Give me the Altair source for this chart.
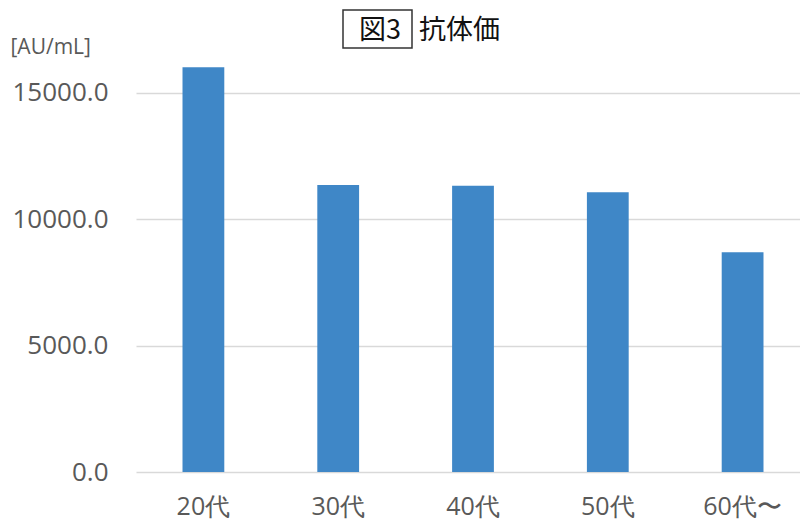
import altair as alt
import pandas as pd

categories = ["20代", "30代", "40代", "50代", "60代〜"]
values = [16000, 11350, 11320, 11060, 8690]
y_ticks = [0, 5000, 10000, 15000]

df = pd.DataFrame({"age": categories, "value": values})

FONT = "Open Sans"
GRAY = "#595959"

bars = alt.Chart(df).mark_bar(color="#3F87C7").encode(
    x=alt.X("age:N", sort=categories,
            scale=alt.Scale(paddingInner=0.69, paddingOuter=0.345, range=[-2, 672]),
            axis=alt.Axis(title=None, labelAngle=0, domain=False, ticks=False,
                          labelFont=FONT, labelFontSize=25, labelColor=GRAY,
                          labelPadding=22, grid=False)),
    y=alt.Y("value:Q", scale=alt.Scale(domain=[0, 17000], nice=False),
            axis=alt.Axis(title="[AU/mL]", titleAngle=0, titleAlign="left",
                          titleBaseline="middle", titleX=-128, titleY=5,
                          titleFont=FONT, titleFontSize=21, titleFontWeight="normal",
                          titleColor=GRAY,
                          values=y_ticks, format=".1f", domain=False, ticks=False,
                          labelFont=FONT, labelFontSize=26, labelColor=GRAY,
                          labelPadding=30, grid=True, gridColor="#d9d9d9",
                          gridWidth=1.5)),
)

box = alt.Chart(alt.Data(values=[{}])).mark_rect(
    fill="white", stroke="#333333", strokeWidth=1.5
).encode(x=alt.value(205), x2=alt.value(274), y=alt.value(-32), y2=alt.value(6))

fig_label = alt.Chart(alt.Data(values=[{}])).mark_text(
    text="図3", font="Noto Sans CJK JP", fontSize=27, fontWeight="normal",
    color="#111111", align="center", baseline="middle"
).encode(x=alt.value(242), y=alt.value(-11))

title_text = alt.Chart(alt.Data(values=[{}])).mark_text(
    text="抗体価", font="Noto Sans CJK JP", fontSize=27, fontWeight="normal",
    color="#111111", align="left", baseline="middle"
).encode(x=alt.value(281), y=alt.value(-11))

chart = alt.layer(bars, box, fig_label, title_text).properties(
    width=662, height=430,
    autosize=alt.AutoSizeParams(type="none"),
    padding={"left": 130, "top": 34, "right": 0, "bottom": 48},
    background="white",
).configure_view(stroke=None)

chart.save("out.html", embed_options={"renderer": "svg", "actions": False})
